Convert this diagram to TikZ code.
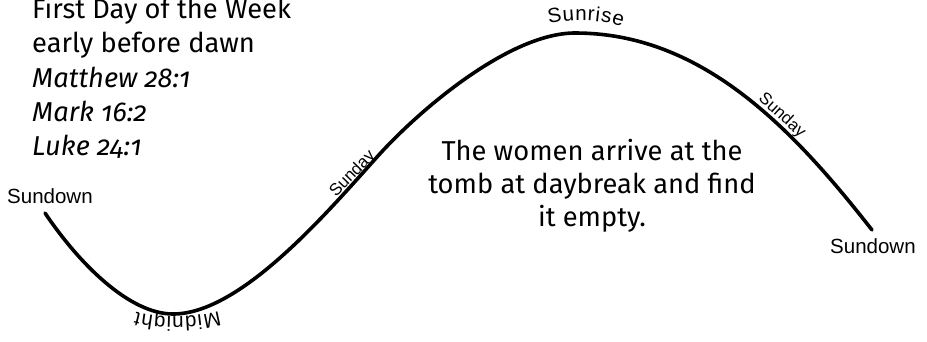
\documentclass[tikz,border=0pt]{standalone}
\usepackage{fontspec}
\setmainfont{Fira Sans}[Numbers=OldStyle]
\newfontfamily\lblfont{Liberation Sans}
\newcommand\arclblfont{\lblfont\fontsize{20.5}{22}\selectfont}
\usetikzlibrary{decorations.text}
\begin{document}
\begin{tikzpicture}[x=1pt,y=-1pt,
  maintext/.style={font=\fontsize{27.3}{30}\selectfont, inner sep=0pt, anchor=base west},
  reftext/.style={maintext, font=\fontsize{27.3}{30}\selectfont\itshape},
  centertext/.style={font=\fontsize{27.3}{30}\selectfont, inner sep=0pt, anchor=base},
  biglbl/.style={font=\lblfont\fontsize{20.5}{24}\selectfont, inner sep=0pt, anchor=base west},
  smalllbl/.style={font=\lblfont\fontsize{16.8}{18}\selectfont, inner sep=0pt, anchor=base},
  daycurve/.style={line width=3.6pt, line cap=round},
  arclbl/.style={decorate, font=\arclblfont,
    decoration={text along path, text align=fit to path, text={|\arclblfont|#1}}}]
\useasboundingbox (0,0) rectangle (927,341);
% curve
\coordinate (sdL) at (45,213);
\coordinate (mid) at (173,314);
\coordinate (inf) at (377,157);
\coordinate (top) at (575,33);
\coordinate (sdR) at (872,230);
\draw[daycurve] (sdL) .. controls (80,265) and (130,314) .. (mid)
  .. controls (240,314) and (325,215) .. (inf)
  .. controls (420,109) and (510,33) .. (top)
  .. controls (700,33) and (790,125) .. (sdR);
% left text block
\node[maintext] (t1) at (32,18) {First Day of the Week};
\node[maintext] (t2) at (32,52.5) {early before dawn};
\node[reftext] (t3) at (32,87) {Matthew 28:1};
\node[reftext] (t4) at (32,121) {Mark 16:2};
\node[reftext] (t5) at (32,155) {Luke 24:1};
% centre text
\node[centertext] (c1) at (592,160) {The women arrive at the};
\node[centertext] (c2) at (592,193) {tomb at daybreak and find};
\node[centertext] (c3) at (592,226) {it empty.};
% labels
\node[biglbl] (sdLlbl) at (7,203) {Sundown};
\node[biglbl] (sdRlbl) at (830,253) {Sundown};
\node[smalllbl, rotate=46] (sunL) at (356,177) {Sunday};
\node[smalllbl, rotate=-42] (sunR) at (779,119) {Sunday};
\path[arclbl=Sunrise]
  (549,24) .. controls (570,19) and (600,19) .. (622,27);
\path[arclbl=Midnight]
  (219,311) .. controls (198,318) and (157,318) .. (136,312);
\end{tikzpicture}
\end{document}
